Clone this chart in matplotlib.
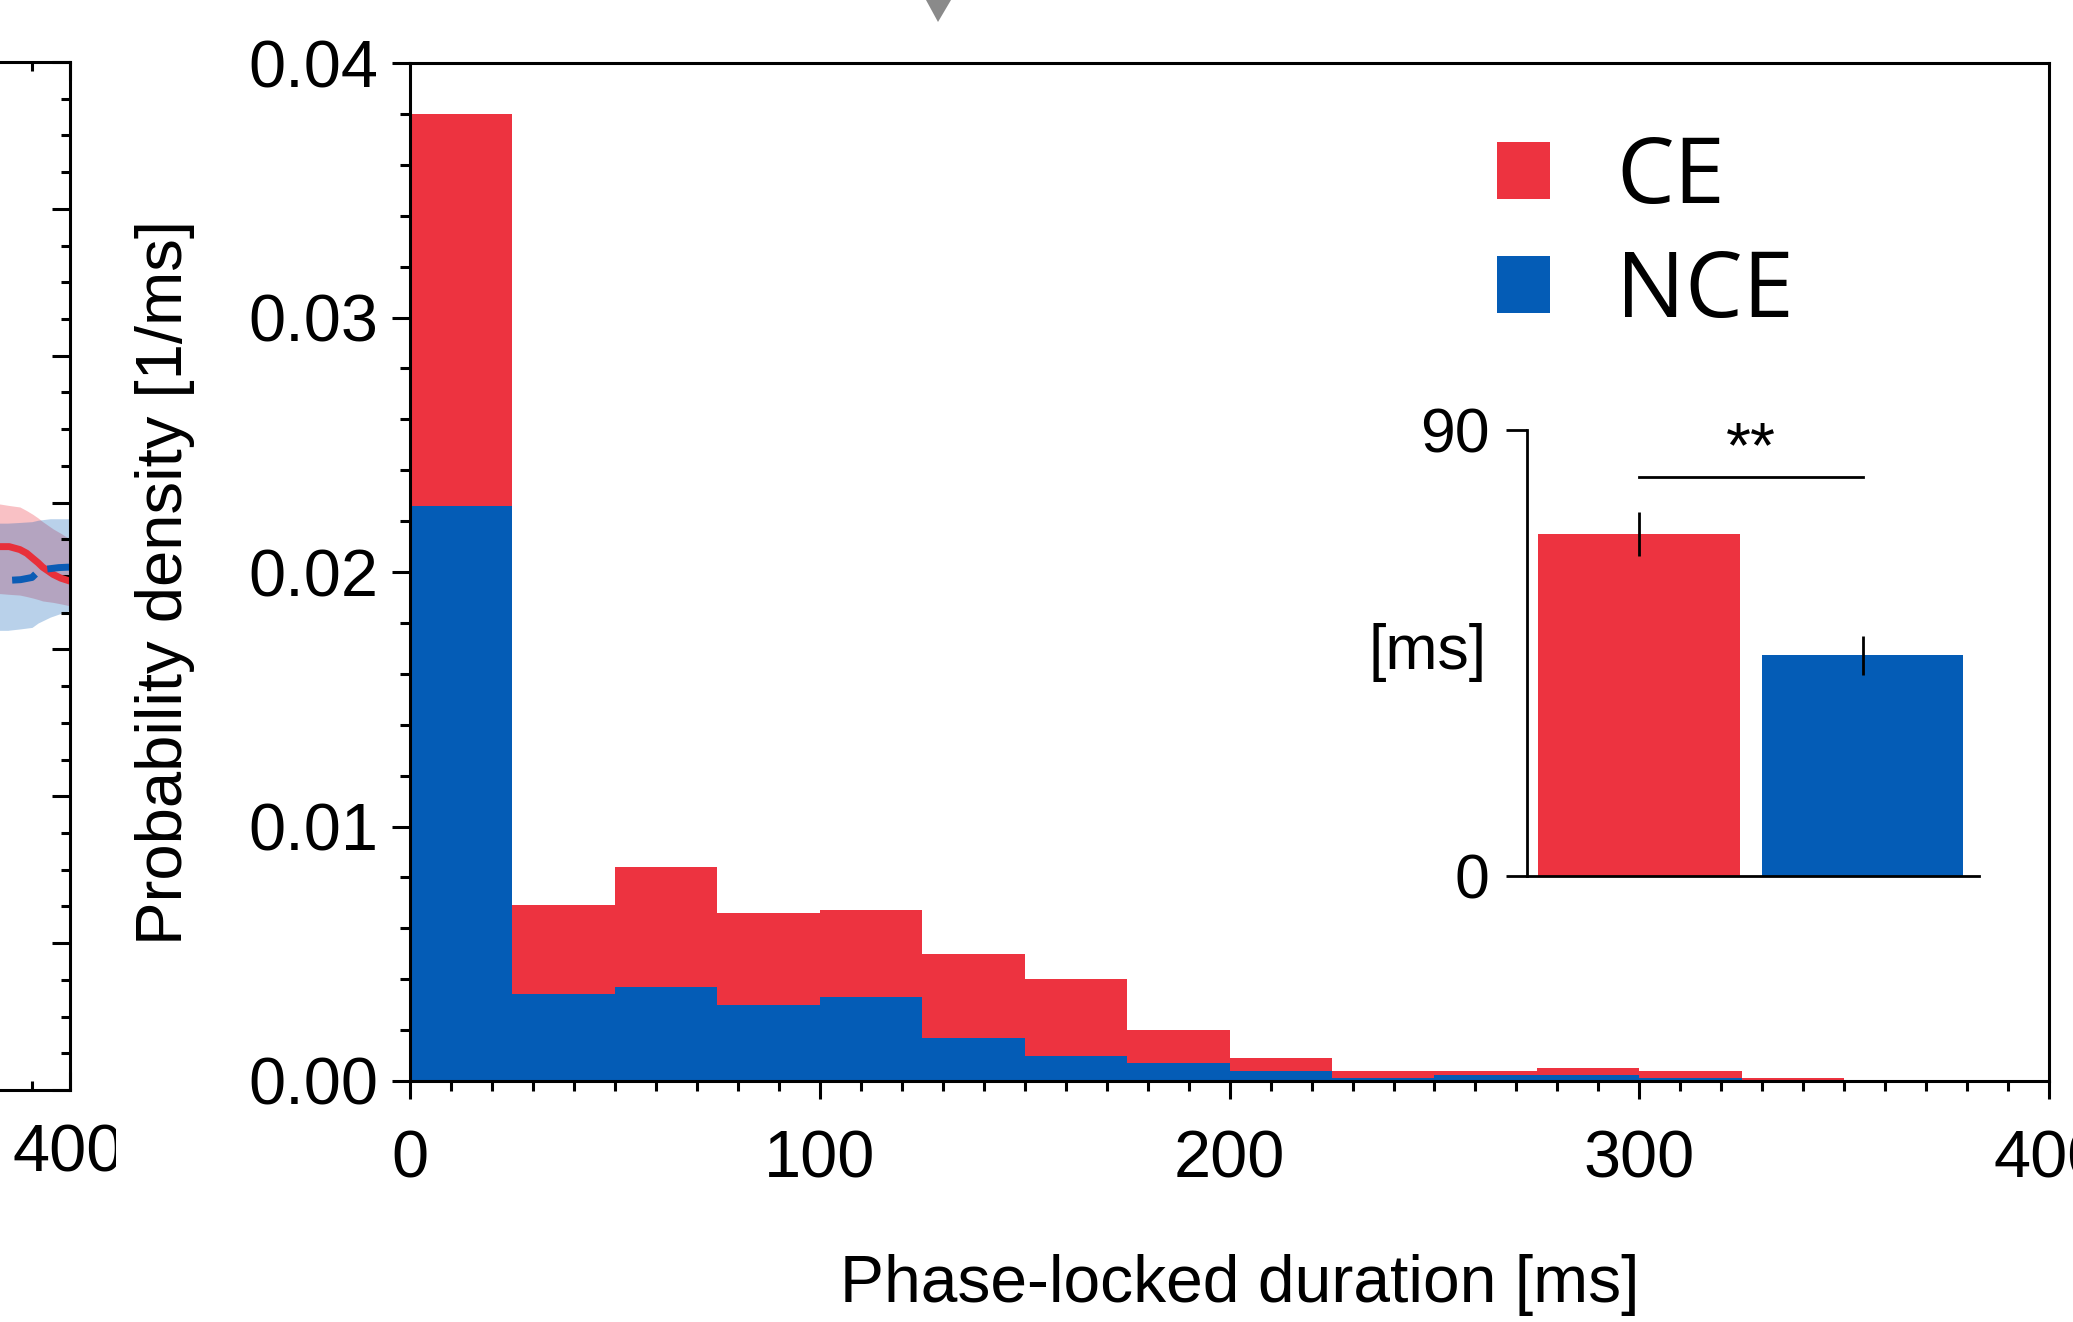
import matplotlib
matplotlib.use("Agg")
import matplotlib.pyplot as plt
from matplotlib.ticker import MultipleLocator, FormatStrFormatter
from matplotlib.patches import Polygon
from matplotlib.transforms import Bbox, TransformedBbox

RED = '#ED3340'
BLUE = '#045CB6'

# histogram data (bin width 25 ms)
bin_left = [0, 25, 50, 75, 100, 125, 150, 175, 200, 225, 250, 275, 300, 325]
nce_density = [0.0226, 0.0034, 0.0037, 0.0030, 0.0033, 0.0017, 0.0010,
               0.0007, 0.0004, 0.0001, 0.00025, 0.00025, 0.0001, 0.00003]
total_density = [0.0380, 0.0069, 0.0084, 0.0066, 0.0067, 0.0050, 0.0040,
                 0.0020, 0.0009, 0.0004, 0.0004, 0.0005, 0.0004, 0.0001]
ce_density = [t - b for t, b in zip(total_density, nce_density)]

# inset: mean duration
groups = ['CE', 'NCE']
mean_ms = [69.0, 44.5]
err_ms = [4.4, 3.9]

# partial left panel (only its right edge is visible)
red_x = [300, 308, 320, 334, 343, 351, 358, 364, 371, 378, 388, 397, 400]
red_y = [3.70, 3.70, 3.70, 3.68, 3.655, 3.62, 3.59, 3.56, 3.535, 3.51, 3.485, 3.47, 3.465]
red_hi = [3.99, 3.99, 3.98, 3.97, 3.945, 3.92, 3.895, 3.87, 3.845, 3.82, 3.79, 3.76, 3.75]
red_lo = [3.38, 3.38, 3.375, 3.37, 3.36, 3.35, 3.34, 3.33, 3.325, 3.32, 3.31, 3.30, 3.30]
blue_x = [301, 318, 335, 350, 354, 358, 366, 374, 385, 397, 400]
blue_y = [3.46, 3.47, 3.475, 3.49, 3.51, 3.53, 3.545, 3.55, 3.557, 3.56, 3.56]
blue_hi = [3.86, 3.86, 3.865, 3.87, 3.875, 3.88, 3.885, 3.89, 3.89, 3.89, 3.89]
blue_lo = [3.13, 3.13, 3.14, 3.15, 3.165, 3.18, 3.20, 3.22, 3.24, 3.26, 3.27]

W, H = 2073, 1322
fig = plt.figure(figsize=(W / 100, H / 100), dpi=100)
plt.rcParams['font.family'] = 'Liberation Sans'

# ---- left (cut) panel
axL = fig.add_axes([-0.113, 0.1755, 0.1468, 0.7776])
axL.fill_between(red_x, red_lo, red_hi, color=RED, alpha=0.3, linewidth=0)
axL.fill_between(blue_x, blue_lo, blue_hi, color=BLUE, alpha=0.28, linewidth=0)
axL.plot(red_x, red_y, color='#E8303A', lw=5)
axL.plot(blue_x, blue_y, color='#0B5CB5', lw=5, linestyle=(3.6, (3.6, 1.9)))
axL.set_xlim(0, 400)
axL.set_ylim(0, 7)
axL.xaxis.set_major_locator(MultipleLocator(100))
axL.xaxis.set_minor_locator(MultipleLocator(50))
axL.yaxis.set_major_locator(MultipleLocator(1))
axL.yaxis.set_minor_locator(MultipleLocator(0.25))
axL.tick_params(which='both', direction='in', left=True, right=True, top=True,
                bottom=True, labelleft=False, labelbottom=False, width=2.2)
axL.tick_params(which='major', length=13)
axL.tick_params(which='minor', length=6.5)
for s in axL.spines.values():
    s.set_linewidth(2.2)
t400 = fig.text(68 / W, 1 - 1154 / H, '400', fontsize=48, ha='center', va='center')
t400.set_clip_box(TransformedBbox(Bbox([[0, 0], [116 / W, 1]]), fig.transFigure))
t400.set_clip_on(True)

# ---- main histogram
ax = fig.add_axes([0.1978, 0.1823, 0.7907, 0.770])
b_nce = ax.bar(bin_left, nce_density, width=25, align='edge', color=BLUE, linewidth=0)
b_ce = ax.bar(bin_left, ce_density, bottom=nce_density, width=25, align='edge',
              color=RED, linewidth=0)
ax.set_xlim(0, 400)
ax.set_ylim(0, 0.04)
ax.set_xticks([0, 100, 200, 300, 400])
ax.xaxis.set_minor_locator(MultipleLocator(10))
ax.yaxis.set_major_locator(MultipleLocator(0.01))
ax.yaxis.set_minor_locator(MultipleLocator(0.002))
ax.yaxis.set_major_formatter(FormatStrFormatter('%.2f'))
ax.tick_params(which='both', direction='out', width=2.2, labelsize=48)
ax.tick_params(which='major', length=13)
ax.tick_params(which='minor', length=7)
ax.tick_params(axis='y', pad=10)
ax.tick_params(axis='x', pad=22)
for s in ax.spines.values():
    s.set_linewidth(2.2)
ax.set_ylabel('Probability density [1/ms]', fontsize=47, va='center')
ax.yaxis.set_label_coords(-0.1495, 0.49)
ax.set_xlabel('Phase-locked duration [ms]', fontsize=47.5, va='center')
ax.xaxis.set_label_coords(0.506, -0.200)

ax.legend([b_ce, b_nce], groups, prop={'family': 'Open Sans', 'size': 66},
          frameon=False, loc='upper left', bbox_to_anchor=(1497 / W, 1 - 133 / H),
          bbox_transform=fig.transFigure, borderpad=0, borderaxespad=0,
          handlelength=0.58, handleheight=0.58, handletextpad=0.72, labelspacing=0.25)

# ---- inset bar chart
axi = fig.add_axes([0.7366, 0.3374, 0.218, 0.3374])
axi.patch.set_alpha(0)
axi.bar([0, 1], mean_ms, width=0.9, color=[RED, BLUE], linewidth=0)
axi.errorbar([0, 1], mean_ms, yerr=err_ms, fmt='none', ecolor='black',
             elinewidth=2, capsize=0)
axi.plot([0, 1], [80.4, 80.4], color='black', lw=2, clip_on=False)
axi.text(0.5, 79.8, '**', fontsize=46, ha='center', va='bottom')
axi.set_xlim(-0.5, 1.52)
axi.set_ylim(0, 90)
axi.set_yticks([0, 90])
axi.set_xticks([])
axi.spines['top'].set_visible(False)
axi.spines['right'].set_visible(False)
for s in ['left', 'bottom']:
    axi.spines[s].set_linewidth(2)
axi.tick_params(axis='y', direction='out', length=15, width=2, labelsize=45, pad=12)
axi.set_ylabel('[ms]', fontsize=45, rotation=0, ha='center', va='center')
axi.yaxis.set_label_coords(-0.219, 0.5)

# grey arrow tip from the panel above
fig.add_artist(Polygon([[926 / W, 1.0], [951 / W, 1.0], [938 / W, 1 - 22 / H]],
                       closed=True, transform=fig.transFigure,
                       facecolor='#8a8a8a', edgecolor='none'))

fig.savefig('out.png', dpi=100)
